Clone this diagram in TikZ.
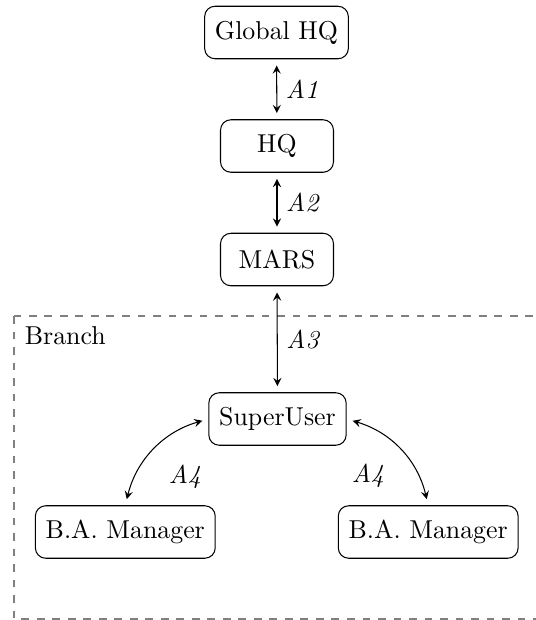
\documentclass[tikz,border=0pt]{standalone}
\usetikzlibrary{arrows.meta}
\begin{document}
\begin{tikzpicture}[x=0.3868pt,y=-0.3868pt,
  box/.style={draw,rounded corners=4pt,inner xsep=4pt,minimum width=43.7pt,minimum height=20.3pt,line width=0.4pt},
  link/.style={<->,>=stealth,shorten <=2.4pt,shorten >=2.4pt,line width=0.4pt},
  lab/.style={font=\itshape,inner sep=3.33pt},
  branchbox/.style={draw=gray,dashed,line width=0.8pt}]
\useasboundingbox (0,0) rectangle (536,620);
\begin{scope}
\clip (0,0) rectangle (536,620);
\draw[branchbox] (14,316) rectangle (560,619);
\end{scope}
\node[anchor=north west,inner sep=4pt] (branch) at (14,316) {Branch};
\node[box] (gh) at (276.5,32.5) {Global HQ};
\node[box] (hq) at (277,146) {HQ};
\node[box] (mars) at (277,259.5) {MARS};
\node[box] (su) at (277.5,419) {SuperUser};
\node[box] (ba1) at (125.3,532) {B.A. Manager};
\node[box] (ba2) at (428.2,532) {B.A. Manager};
\draw[link] (gh) -- node[lab,right] (a1) {A1} (hq);
\draw[link] (hq) -- node[lab,right] (a2) {A2} (mars);
\draw[link] (mars) -- node[lab,right] (a3) {A3} (su);
\draw[link] (ba1.north) to[bend left=30] (su.west);
\draw[link] (su.east) to[bend left=30] (ba2.north);
\node[lab] (a4l) at (185,477) {A4};
\node[lab] (a4r) at (368,476) {A4};
\end{tikzpicture}
\end{document}
